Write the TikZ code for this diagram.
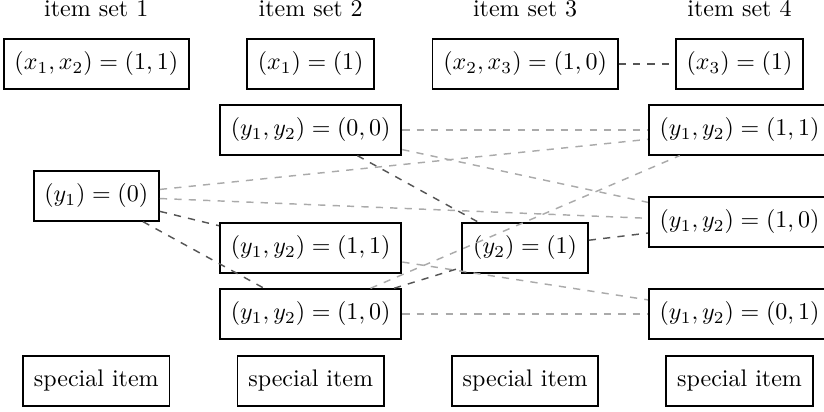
\documentclass[tikz,border=0pt]{standalone}
\usepackage{amsmath}
\usepackage{tikz}
\usepackage{xcolor}
\usetikzlibrary{positioning}
\definecolor{Link_Light}{HTML}{AAAAAA}
\definecolor{Link_Dark}{HTML}{555555}

\begin{document}
\begin{tikzpicture}[
    item/.style={draw, thick, inner xsep=4.5pt, inner ysep=5.3pt, minimum height=20.6pt},
    lightlink/.style={dashed, semithick, Link_Light},
    darklink/.style={dashed, semithick, Link_Dark}]
    \useasboundingbox (0,0) rectangle (12.067,6.033);

    % Headers
    \node[anchor=base] (h1) at (1.41,5.785) {item set 1};
    \node[anchor=base] (h2) at (4.55,5.785) {item set 2};
    \node[anchor=base] (h3) at (7.69,5.785) {item set 3};
    \node[anchor=base] (h4) at (10.83,5.785) {item set 4};

    % Row 0
    \node[item] (x12) at (1.41,5.096) {$(x_1, x_2) = (1,1)$};
    \node[item] (x1) at (4.55,5.096) {$(x_1) = (1)$};
    \node[item] (x23) at (7.69,5.096) {$(x_2, x_3) = (1,0)$};
    \node[item] (x3) at (10.83,5.096) {$(x_3) = (1)$};

    % Set 1 and set 2
    \node[item] (y1) at (1.41,3.163) {$(y_1) = (0)$};
    \node[item] (y00) at (4.55,4.130) {$(y_1, y_2) = (0,0)$};
    \node[item] (y11a) at (4.55,2.402) {$(y_1, y_2) = (1,1)$};
    \node[item] (y10a) at (4.55,1.435) {$(y_1, y_2) = (1,0)$};

    % Set 3 and set 4
    \node[item] (y2) at (7.69,2.402) {$(y_2) = (1)$};
    \node[item] (y11b) at (10.83,4.130) {$(y_1, y_2) = (1,1)$};
    \node[item] (y10b) at (10.83,2.782) {$(y_1, y_2) = (1,0)$};
    \node[item] (y01) at (10.83,1.435) {$(y_1, y_2) = (0,1)$};

    % Special items
    \node[item] (s1) at (1.41,0.454) {special item};
    \node[item] (s2) at (4.55,0.454) {special item};
    \node[item] (s3) at (7.69,0.454) {special item};
    \node[item] (s4) at (10.83,0.454) {special item};

    % Links
    \draw[darklink] (x23) -- (x3);
    \draw[lightlink] (y00) -- (y11b);
    \draw[lightlink] (y00) -- (y10b);
    \draw[darklink] (y00) -- (y2);
    \draw[lightlink] (y1) -- (y11b);
    \draw[lightlink] (y1) -- (y10b);
    \draw[darklink] (y1) -- (y11a);
    \draw[darklink] (y1) -- (y10a);
    \draw[lightlink] (y11a) -- (y01);
    \draw[lightlink] (y10a) -- (y11b);
    \draw[darklink] (y10a) -- (y2);
    \draw[lightlink] (y10a) -- (y01);
    \draw[darklink] (y2) -- (y10b);
\end{tikzpicture}
\end{document}
